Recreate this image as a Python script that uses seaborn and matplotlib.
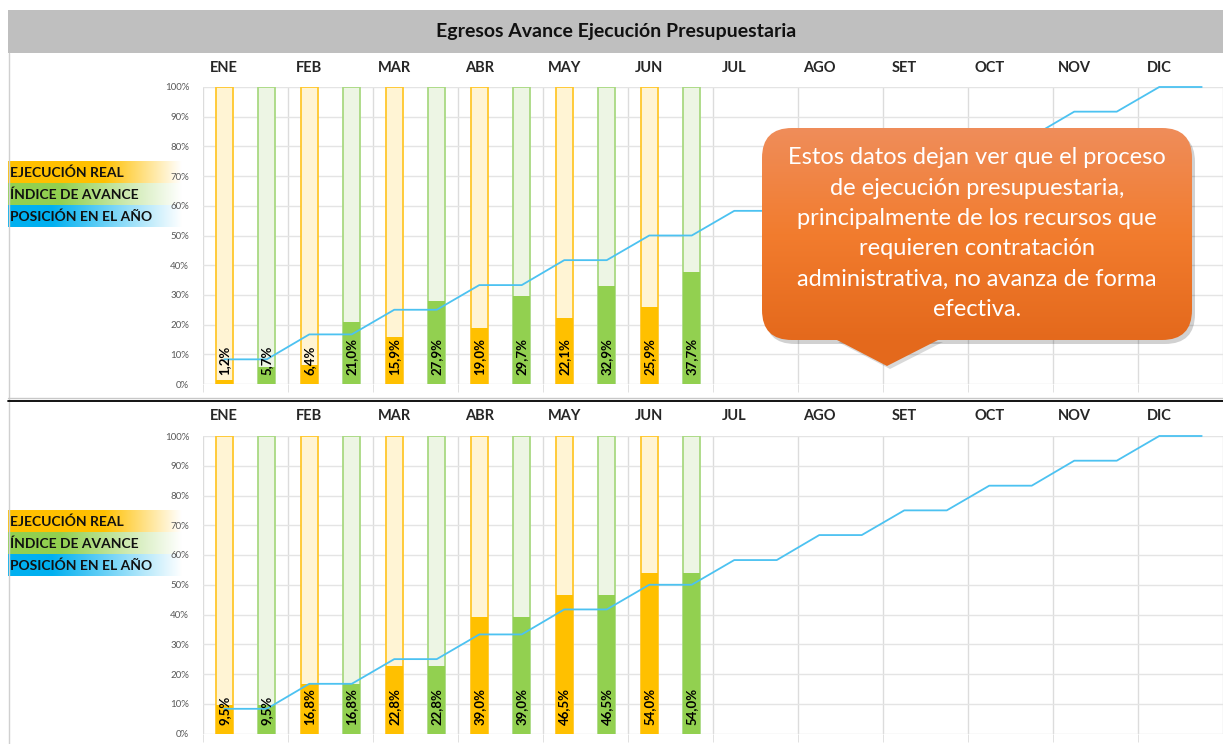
import matplotlib.pyplot as plt
import numpy as np
import pandas as pd
import seaborn as sns
from matplotlib.colors import LinearSegmentedColormap
from matplotlib.patches import FancyBboxPatch, Polygon, Rectangle


meses = ['ENE', 'FEB', 'MAR', 'ABR', 'MAY', 'JUN', 'JUL', 'AGO', 'SET', 'OCT', 'NOV', 'DIC']
meses_con_datos = meses[:6]
series = ['EJECUCIÓN REAL', 'ÍNDICE DE AVANCE']

# panel superior
real_sup = [1.2, 6.4, 15.9, 19.0, 22.1, 25.9]
indice_sup = [5.7, 21.0, 27.9, 29.7, 32.9, 37.7]
# panel inferior
real_inf = [9.5, 16.8, 22.8, 39.0, 46.5, 54.0]
indice_inf = [9.5, 16.8, 22.8, 39.0, 46.5, 54.0]
# posicion en el año (por mes)
posicion = [8.3, 16.7, 25.0, 33.3, 41.7, 50.0, 58.3, 66.7, 75.0, 83.3, 91.7, 100.0]

texto_nota = ['Estos datos dejan ver que el proceso',
              'de ejecución presupuestaria,',
              'principalmente de los recursos que',
              'requieren contratación',
              'administrativa, no avanza de forma',
              'efectiva.']

claros = {series[0]: '#FFF4D4', series[1]: '#EDF5E4'}
bordes = {series[0]: '#FFC72C', series[1]: '#A9D982'}
fuertes = {series[0]: '#FFC000', series[1]: '#92D050'}
azul = '#4CC2F1'

sns.set_style('white')
plt.rcParams['font.family'] = ['Lato', 'DejaVu Sans']

W, H = 1223, 744
fig = plt.figure(figsize=(W / 100, H / 100), dpi=100)

# capa de fondo en pixeles: titulo, bordes y leyendas
fondo = fig.add_axes([0, 0, 1, 1], zorder=-1)
fondo.axis('off')


def tabla(real, indice):
    filas = []
    for i, mes in enumerate(meses_con_datos):
        filas.append({'mes': mes, 'pos': 2 * i, 'serie': series[0], 'valor': real[i]})
        filas.append({'mes': mes, 'pos': 2 * i + 1, 'serie': series[1], 'valor': indice[i]})
    df = pd.DataFrame(filas)
    df['total'] = 100
    return df


def panel(ax, real, indice):
    df = tabla(real, indice)
    # barra de fondo hasta 100%
    sns.barplot(data=df, x='pos', y='total', hue='serie', hue_order=series, palette=claros,
                native_scale=True, width=0.4, saturation=1, errorbar=None, legend=False,
                linewidth=1.3, ax=ax)
    for cont, s in zip(ax.containers, series):
        for p in cont:
            p.set_edgecolor(bordes[s])
    sns.barplot(data=df, x='pos', y='valor', hue='serie', hue_order=series, palette=fuertes,
                native_scale=True, width=0.4, saturation=1, errorbar=None, legend=False,
                linewidth=0, ax=ax)

    sns.lineplot(x=np.arange(24), y=np.repeat(posicion, 2), color=azul, linewidth=1.3, ax=ax)
    ax.lines[-1].set_clip_on(False)

    for _, r in df.iterrows():
        ax.text(r['pos'], 3, f"{r['valor']:.1f}%".replace('.', ','), rotation=90,
                ha='center', va='bottom', fontsize=9.5, fontweight='bold', color='black', zorder=5)

    ax.set_xlim(-0.5, 23.5)
    ax.set_ylim(0, 100)
    ax.set_yticks(range(0, 101, 10))
    ax.set_yticklabels([f'{v}%' for v in range(0, 101, 10)])
    ax.set_xticks(np.arange(0, 24, 2))
    ax.set_xticklabels(meses, fontweight='bold', fontsize=10.5, color='#262626')
    ax.set_xticks(np.arange(-0.5, 24, 2), minor=True)
    ax.xaxis.set_ticks_position('top')
    ax.grid(axis='y', color='#E4E4E4', lw=1)
    ax.grid(axis='x', which='minor', color='#DCDCDC', lw=1)
    ax.tick_params(axis='x', which='major', length=0, pad=9)
    ax.tick_params(axis='x', which='minor', top=False, bottom=True, length=6, color='#DCDCDC')
    ax.tick_params(axis='y', length=0, pad=10, labelsize=7, labelcolor='#595959')
    for sp in ax.spines.values():
        sp.set_visible(False)
    ax.set_xlabel('')
    ax.set_ylabel('')
    ax.set_axisbelow(True)
    ax.patch.set_alpha(0)


ax1 = fig.add_axes([203 / W, (H - 384) / H, 1020 / W, 297 / H])
ax2 = fig.add_axes([203 / W, (H - 733.5) / H, 1020 / W, 297.5 / H])
panel(ax1, real_sup, indice_sup)
panel(ax2, real_inf, indice_inf)

fondo.add_patch(Rectangle((8, 10), W - 8, 43, color='#BFBFBF', lw=0))
fondo.text(616, 32, 'Egresos Avance Ejecución Presupuestaria', ha='center', va='center',
           fontsize=14, fontweight='bold', color='#111111')
fondo.plot([8.5, 8.5], [53, H], color='#D0D0D0', lw=1)
fondo.plot([8, W], [397.5, 397.5], color='#C8C8C8', lw=1)
fondo.plot([8, W], [400.5, 400.5], color='black', lw=1.3)

grad_h = np.linspace(0, 1, 256).reshape(1, -1)
colores_ley = [('#FFC000', 0.55), ('#92D050', 0.3), ('#00B0F0', 0.25)]
etiquetas = series + ['POSICIÓN EN EL AÑO']
for y0 in (161.5, 511):
    for i, ((col, ini), etq) in enumerate(zip(colores_ley, etiquetas)):
        top = y0 + i * 22
        cmap = LinearSegmentedColormap.from_list('g', [(0, col), (ini, col), (1, 'white')])
        fondo.imshow(grad_h, cmap=cmap, extent=(8, 182, top + 21.5, top), aspect='auto', zorder=1)
        fondo.text(10, top + 11, etq, ha='left', va='center', fontsize=10, fontweight='bold',
                   color='#111111', zorder=2)
fondo.set_xlim(0, W)
fondo.set_ylim(H, 0)

# nota sobre el grafico
capa = fig.add_axes([0, 0, 1, 1], zorder=10)
capa.axis('off')
sombra = FancyBboxPatch((765, 132), 430, 212, boxstyle='round,pad=0,rounding_size=30',
                        fc='black', alpha=0.18, lw=0, zorder=3)
capa.add_patch(sombra)
capa.add_patch(Polygon([(838, 342), (943, 342), (890, 369)], closed=True, fc='black',
                       alpha=0.15, lw=0, zorder=3))
caja = FancyBboxPatch((762, 128), 430, 212, boxstyle='round,pad=0,rounding_size=30',
                      fc='none', ec='none', zorder=4)
capa.add_patch(caja)
cmap_nota = LinearSegmentedColormap.from_list('n', ['#EF8D5A', '#F27C2E', '#E4691C'])
im = capa.imshow(np.linspace(0, 1, 256).reshape(-1, 1), cmap=cmap_nota,
                 extent=(762, 1192, 340, 128), aspect='auto', zorder=4)
im.set_clip_path(caja)
capa.add_patch(Polygon([(835, 339), (940, 339), (887, 366)], closed=True, fc='#E4691C',
                       lw=0, zorder=4))
for i, linea in enumerate(texto_nota):
    capa.text(977, 158 + i * 30.3, linea, ha='center', va='center', fontsize=17,
              color='white', zorder=5)
capa.set_xlim(0, W)
capa.set_ylim(H, 0)

fig.savefig('out.png', dpi=100)
